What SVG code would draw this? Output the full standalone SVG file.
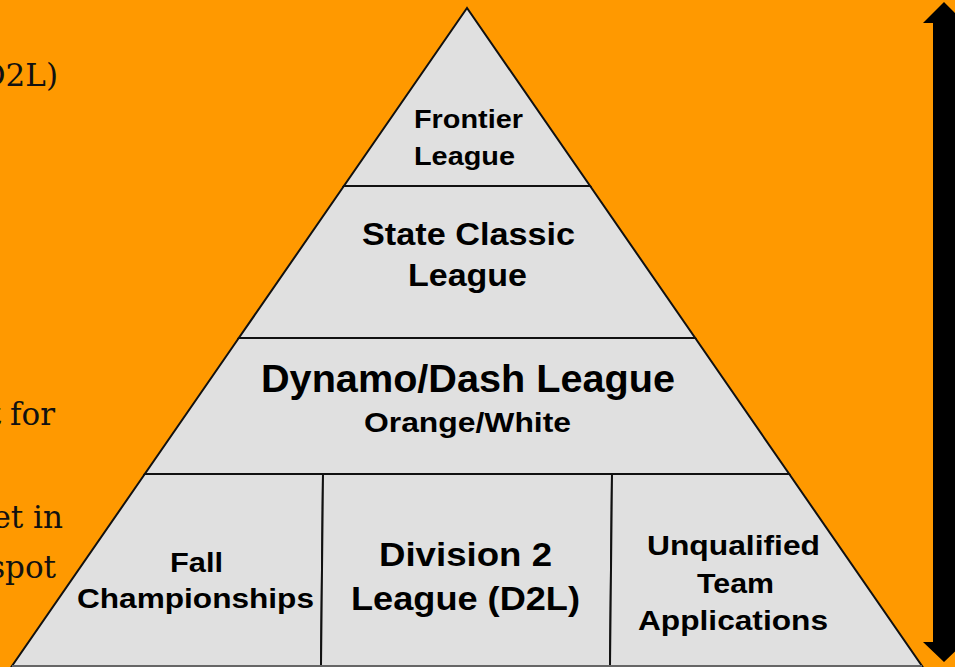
<svg xmlns="http://www.w3.org/2000/svg" width="955" height="667" viewBox="0 0 955 667">
<style>
.bg{fill:#FF9900}
.tier{fill:#E0E0E0;stroke:#111;stroke-width:2;stroke-linejoin:miter}
.lbl{font-family:"Liberation Sans",Arial,sans-serif;font-weight:bold;fill:#000;text-anchor:middle}
.side{font-family:"DejaVu Serif","Liberation Serif",serif;font-size:31px;fill:#111;text-anchor:end}
</style>
<rect class="bg" x="0" y="0" width="955" height="667"/>
<g id="side-text">
<text class="side" x="58" y="86">D2L)</text>
<text class="side" x="55" y="425" word-spacing="-1">t for</text>
<text class="side" x="63" y="528">et in</text>
<text class="side" x="56" y="578">spot</text>
</g>
<g id="tier-frontier">
<polygon class="tier" points="467,8 343.9,186 590.1,186"/>
<text class="lbl" x="468.5" y="128" font-size="26" textLength="109" lengthAdjust="spacingAndGlyphs">Frontier</text>
<text class="lbl" x="464.5" y="165" font-size="26" textLength="101" lengthAdjust="spacingAndGlyphs">League</text>
</g>
<g id="tier-state">
<polygon class="tier" points="343.9,186 238.8,338 695.2,338 590.1,186"/>
<text class="lbl" x="468.5" y="245" font-size="32" textLength="213" lengthAdjust="spacingAndGlyphs">State Classic</text>
<text class="lbl" x="467.5" y="286" font-size="32" textLength="119" lengthAdjust="spacingAndGlyphs">League</text>
</g>
<g id="tier-dynamo">
<polygon class="tier" points="238.8,338 144.8,474 789.2,474 695.2,338"/>
<text class="lbl" x="468" y="392" font-size="38" textLength="414" lengthAdjust="spacingAndGlyphs">Dynamo/Dash League</text>
<text class="lbl" x="467.5" y="432" font-size="27" textLength="207" lengthAdjust="spacingAndGlyphs">Orange/White</text>
</g>
<g id="tier-fall">
<polygon class="tier" points="144.8,474 12,666 321,666 323,474"/>
<text class="lbl" x="196.5" y="572" font-size="28" textLength="53" lengthAdjust="spacingAndGlyphs">Fall</text>
<text class="lbl" x="195.5" y="608" font-size="28" textLength="237" lengthAdjust="spacingAndGlyphs">Championships</text>
</g>
<g id="tier-d2l">
<polygon class="tier" points="323,474 321,666 610,666 612,474"/>
<text class="lbl" x="465.5" y="566" font-size="34" textLength="173" lengthAdjust="spacingAndGlyphs">Division 2</text>
<text class="lbl" x="465.5" y="610" font-size="34" textLength="229" lengthAdjust="spacingAndGlyphs">League (D2L)</text>
</g>
<g id="tier-unqualified">
<polygon class="tier" points="612,474 610,666 922,666 789.2,474"/>
<text class="lbl" x="733.5" y="555" font-size="28" textLength="173" lengthAdjust="spacingAndGlyphs">Unqualified</text>
<text class="lbl" x="735.5" y="593" font-size="28" textLength="77" lengthAdjust="spacingAndGlyphs">Team</text>
<text class="lbl" x="733" y="630" font-size="28" textLength="190" lengthAdjust="spacingAndGlyphs">Applications</text>
</g>
<g id="connectors">
<line x1="12" y1="666" x2="922" y2="666" stroke="#666" stroke-width="2"/>
<polygon id="range-arrow" fill="#000" points="944,2 965,23 956,23 956,642 965,642 944,662 923,642 933,642 933,23 923,23"/>
</g>
</svg>
